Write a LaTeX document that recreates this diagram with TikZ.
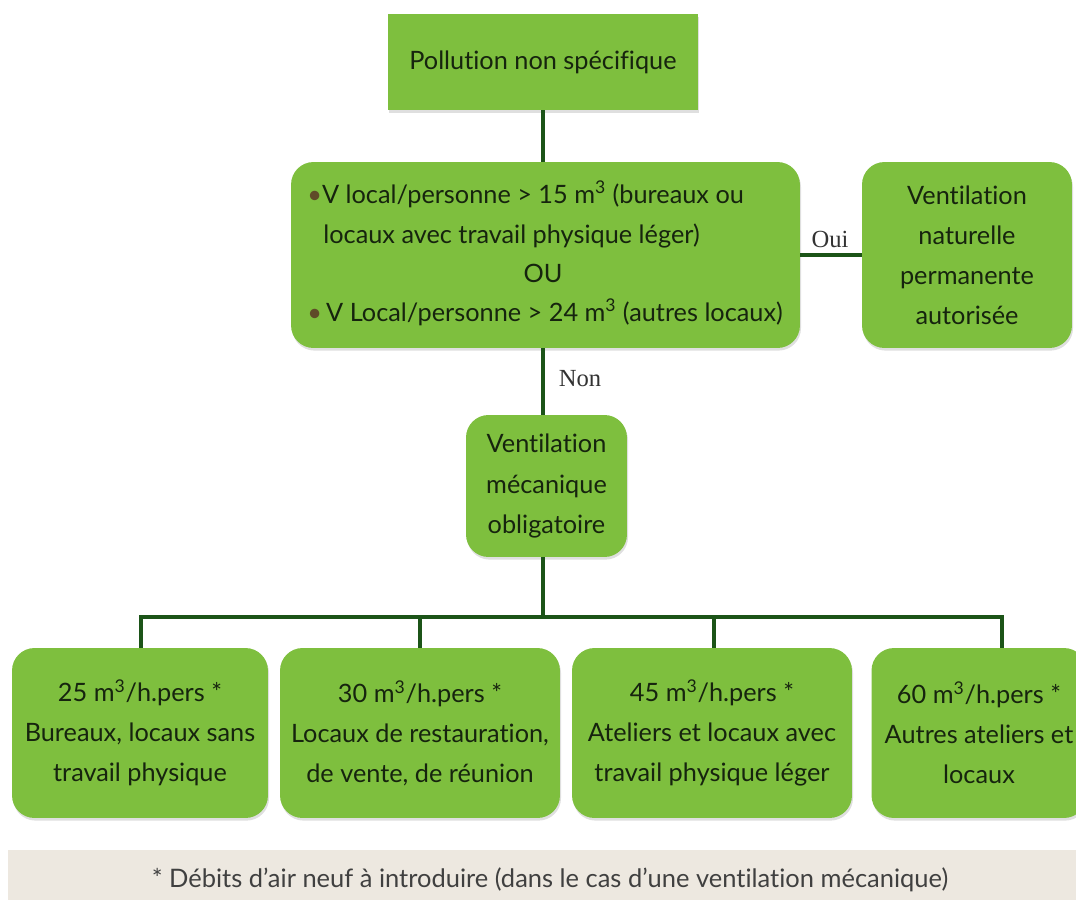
\documentclass[tikz,border=0pt]{standalone}
\usepackage{fontspec}
\setmainfont[Ligatures={NoCommon,NoRare}]{Lato}
\newfontfamily\serifB{Liberation Serif}
\usetikzlibrary{shadows}
\definecolor{boxgreen}{RGB}{126,191,62}
\definecolor{linegreen}{RGB}{28,84,24}
\definecolor{txt}{RGB}{22,36,14}
\definecolor{bul}{RGB}{95,75,40}
\definecolor{foot}{RGB}{237,232,224}
\tikzset{
  gbox/.style={fill=boxgreen, draw=none, text=txt, align=center, inner sep=0pt,
    drop shadow={opacity=0.25, shadow xshift=0.6pt, shadow yshift=-1.5pt},
    font=\fontsize{14.4}{22.8}\selectfont},
  rbox/.style={gbox, rounded corners=0.45cm},
  conn/.style={draw=linegreen, line width=2.2pt},
  lab/.style={font=\serifB\fontsize{14}{16}\selectfont, text=black!80, inner sep=0pt},
  ctext/.style={font=\fontsize{14.4}{22.8}\selectfont, text=txt, inner sep=0pt, anchor=base west},
}
\newcommand{\cub}{\textsuperscript{3}}
\newcommand{\bu}{{\color{bul}\textbullet}}
\begin{document}
\begin{tikzpicture}[x=0.02cm,y=-0.02cm]
\useasboundingbox (0,0) rectangle (1076,900);
% footer
\node[fill=foot, minimum width=21.36cm, minimum height=1cm, inner sep=0pt] (foot) at (542,875) {};
\node[font=\fontsize{14.5}{16}\selectfont, text=black!75, inner sep=0pt] (foottxt) at (550,880) {* Débits d’air neuf à introduire (dans le cas d’une ventilation mécanique)};
% boxes
\node[gbox, minimum width=6.2cm, minimum height=1.92cm] (top) at (543,62) {Pollution non spécifique};
\node[rbox, minimum width=10.18cm, minimum height=3.72cm] (cond) at (545.5,255) {};
\node[ctext] (c1) at (307,203) {\bu V local/personne > 15 m\cub{} (bureaux ou};
\node[ctext] (c2) at (323,243) {locaux avec travail physique léger)};
\node[ctext, anchor=base] (c3) at (543,282) {OU};
\node[ctext] (c4) at (307,321) {\bu\,V Local/personne > 24 m\cub{} (autres locaux)};
\node[rbox, minimum width=4.2cm, minimum height=3.72cm] (oui) at (967,255) {Ventilation\\naturelle\\permanente\\autorisée};
\node[rbox, minimum width=3.22cm, minimum height=2.84cm] (vmo) at (546.5,486) {Ventilation\\mécanique\\obligatoire};
\node[rbox, minimum width=5.12cm, minimum height=3.4cm] (b1) at (140,733) {25 m\cub/h.pers *\\Bureaux, locaux sans\\travail physique};
\node[rbox, minimum width=5.6cm, minimum height=3.4cm] (b2) at (420,733) {30 m\cub/h.pers *\\Locaux de restauration,\\de vente, de réunion};
\node[rbox, minimum width=5.6cm, minimum height=3.4cm] (b3) at (712,733) {45 m\cub/h.pers *\\Ateliers et locaux avec\\travail physique léger};
\node[rbox, minimum width=4.3cm, minimum height=3.4cm] (b4) at (979,733) {60 m\cub/h.pers *\\Autres ateliers et\\locaux};
% connectors
\draw[conn] (top.south) -- (top.south |- cond.north);
\draw[conn] (cond.east) -- (oui.west);
\draw[conn] (543,348) coordinate (cs) -- (cs |- vmo.north);
\coordinate (j1) at (141,617);
\coordinate (j2) at (420,617);
\coordinate (j3) at (714,617);
\coordinate (j4) at (1002,617);
\draw[conn] (543,557) coordinate (vs) -- (vs |- j1);
\draw[conn, line cap=rect] (j1) -- (j4);
\draw[conn] (j1) -- (j1 |- b1.north);
\draw[conn] (j2) -- (j2 |- b2.north);
\draw[conn] (j3) -- (j3 |- b3.north);
\draw[conn] (j4) -- (j4 |- b4.north);
% labels
\node[lab] (oui lab) at (830,239) {Oui};
\node[lab] (non lab) at (580,379) {Non};
\end{tikzpicture}
\end{document}
